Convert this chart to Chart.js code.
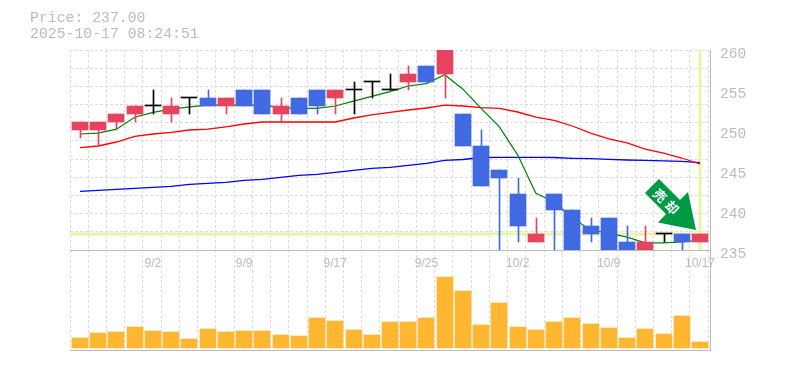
<!DOCTYPE html>
<html>
<head>
<meta charset="utf-8">
<title>Price</title>
<script src="https://cdn.jsdelivr.net/npm/chart.js@4"></script>
<style>
  html, body { margin: 0; padding: 0; background: #fff; }
  #wrap { position: relative; width: 785px; height: 370px; overflow: hidden; }
  canvas { position: absolute; left: 0; top: 0; }
  #info { position: absolute; left: 30px; top: 10px; font: 14.8px/16px "Liberation Mono", monospace; color: #bbb; white-space: pre; }
</style>
</head>
<body>
<div id="wrap">
  <canvas id="volChart" width="785" height="370"></canvas>
  <canvas id="priceChart" width="785" height="370"></canvas>
  <div id="info">Price: 237.00
2025-10-17 08:24:51</div>
</div>
<script>
// datos
const dates = ['8/27','8/28','8/29','9/1','9/2','9/3','9/4','9/5','9/8','9/9','9/10','9/11','9/12','9/16','9/17','9/18','9/19','9/22','9/24','9/25','9/26','9/29','9/30','10/1','10/2','10/3','10/6','10/7','10/8','10/9','10/10','10/14','10/15','10/16','10/17'];
const tickDates = ['9/2','9/9','9/17','9/25','10/2','10/9','10/17'];
const priceTicks = [235, 240, 245, 250, 255, 260];
const opens  = [250,250,251,252,253,252,254,254,253,255,255,252,254,255,254,255,256,255,256,258,257,252,248,245,242,236,242,240,238,239,236,235,237,237,236];
const closes = [251,251,252,253,253,253,254,253,254,253,252,253,252,253,255,255,256,255,257,256,260,248,243,244,238,237,240,234,237,234,234,236,237,236,237];
const highs  = [251,251,252,253,255,254,254,255,254,255,255,254,254,255,255,256,256,257,258,258,260,252,250,245,244,239,242,240,239,239,238,238,237,237,237];
const lows   = [249,248,250,251,252,251,252,253,252,253,252,251,252,252,252,252,254,255,255,256,254,248,243,234,236,236,234,234,236,234,234,234,236,235,236];
const ma5  = [249.5,249.6,250.1,251.6,252.2,252.6,252.9,253.1,253.1,253.1,253.1,252.8,252.7,252.7,253,253.6,254.2,254.8,255.5,255.8,256.9,255.1,252.7,250.4,246.9,242.1,241,239,237.5,237.1,236.6,235.9,235.9,236,236.2];
const ma25 = [247.8,248,248.5,249.2,249.5,249.7,250,250.1,250.4,250.75,251,251,251,251,251,251.5,251.9,252.2,252.5,252.75,253.1,253,252.8,252.7,252.25,251.6,251.2,250.5,249.6,248.9,248.4,247.6,247.1,246.5,245.75];
const ma75 = [242.34,242.46,242.59,242.71,242.84,242.96,243.21,243.34,243.46,243.71,243.84,244.09,244.34,244.46,244.71,244.96,245.21,245.34,245.59,245.84,246.21,246.31,246.56,246.59,246.59,246.59,246.56,246.46,246.41,246.34,246.25,246.21,246.13,246.09,245.91];
const volumes = [10,15,16,21,17,16,9,19,16,17,17,13,12,30,27,18,13,26,26,30,71,57,23,45,21,18,26,30,24,20,10,19,14,32,6];
const lastPrice = 237.00;

const colUp = '#e64361', colDown = '#4169e1', colDoji = '#000';
const colGrid = '#ddd', colAxis = '#bbb', colGuide = '#e6f5a8';
const xMin = -0.5484, xMax = 34.549, yMin = 235, yMax = 260;
const gridDash = [3, 2];

function candleColor(i) {
    if (opens[i] === closes[i]) return colDoji;
    return closes[i] > opens[i] ? colUp : colDown;
}
const candleColors = dates.map((d, i) => candleColor(i));
const idx = dates.map((d, i) => i);

// fija las barras al pixel para que salgan nitidas
const crispBars = {
    id: 'crispBars',
    afterDatasetsUpdate(chart) {
        chart.data.datasets.forEach((ds, n) => {
            if (ds.type !== 'bar') return;
            chart.getDatasetMeta(n).data.forEach(el => {
                const left = Math.round(el.x - 8) + 8;
                el.x = ds.barThickness === 1 ? left + 0.5 : left;
                el.y = Math.round(el.y);
                el.base = Math.round(el.base);
            });
        });
    }
};

// flecha de señal sobre la ultima vela
const arrowNote = {
    id: 'arrowNote',
    afterDraw(chart) {
        const ctx = chart.ctx;
        const tipX = chart.scales.x.getPixelForValue(idx[idx.length - 1]) - 4;
        const tipY = chart.scales.y.getPixelForValue(lastPrice) - 4;
        const shape = [[0,0],[-38,-7.5],[-30,-16],[-51,-37],[-37,-51],[-16,-30],[-8,-38]];
        ctx.save();
        ctx.fillStyle = '#009944';
        ctx.beginPath();
        shape.forEach((p, i) => i ? ctx.lineTo(tipX + p[0], tipY + p[1]) : ctx.moveTo(tipX + p[0], tipY + p[1]));
        ctx.closePath();
        ctx.fill();
        ctx.translate(tipX - 30, tipY - 28.5);
        ctx.rotate(Math.PI / 4);
        ctx.fillStyle = '#fff';
        ctx.font = 'bold 13px "Noto Sans CJK JP"';
        ctx.textAlign = 'center';
        ctx.textBaseline = 'middle';
        ctx.fillText('売', -8.5, 0);
        ctx.fillText('却', 8.5, 0);
        ctx.restore();
    }
};

function gridXAxis() {
    return {
        type: 'linear', position: 'bottom', min: xMin, max: xMax, offset: false,
        afterBuildTicks: s => { s.ticks = Array.from({ length: 36 }, (_, k) => ({ value: xMin + k })); },
        afterFit: s => { s.height = 0; },
        ticks: { display: false },
        border: { display: false, dash: gridDash },
        grid: { color: colGrid, offset: false, drawTicks: false }
    };
}

new Chart(document.getElementById('priceChart'), {
    type: 'bar',
    plugins: [crispBars, arrowNote],
    data: {
        datasets: [
            { type: 'bar', order: 1, grouped: false, barThickness: 16, minBarLength: 1, backgroundColor: candleColors,
              data: idx.map(i => ({ x: i, y: [opens[i], closes[i]] })) },
            { type: 'bar', order: 2, grouped: false, barThickness: 1, backgroundColor: candleColors,
              data: idx.map(i => ({ x: i, y: [lows[i], highs[i]] })) },
            { type: 'line', order: 3, borderColor: '#008000', borderWidth: 1.2, pointRadius: 0, data: idx.map(i => ({ x: i, y: ma5[i] })) },
            { type: 'line', order: 4, borderColor: '#ff0000', borderWidth: 1.3, pointRadius: 0, data: idx.map(i => ({ x: i, y: ma25[i] })) },
            { type: 'line', order: 5, borderColor: '#0000ff', borderWidth: 1.3, pointRadius: 0, data: idx.map(i => ({ x: i, y: ma75[i] })) },
            { type: 'line', order: 6, borderColor: colGuide, borderWidth: 3, pointRadius: 0, data: [{ x: xMin, y: lastPrice }, { x: xMax, y: lastPrice }] },
            { type: 'line', order: 6, borderColor: colGuide, borderWidth: 3, pointRadius: 0, data: [{ x: idx[idx.length - 1], y: yMin }, { x: idx[idx.length - 1], y: yMax }] }
        ]
    },
    options: {
        responsive: false,
        animation: false,
        layout: { padding: { left: 70, top: 50 } },
        plugins: { legend: { display: false }, tooltip: { enabled: false } },
        scales: {
            x: {
                type: 'linear', position: 'bottom', min: xMin, max: xMax, offset: false,
                afterBuildTicks: s => { s.ticks = tickDates.map(t => ({ value: dates.indexOf(t) })); },
                afterFit: s => { s.height = 120; },
                ticks: {
                    autoSkip: false, maxRotation: 0, padding: 6, color: colAxis,
                    font: { family: '"Liberation Sans"', size: 12 },
                    callback: v => dates[v]
                },
                grid: { display: false, offset: false, drawTicks: false },
                border: { display: true, color: colAxis }
            },
            xGrid: gridXAxis(),
            y: {
                type: 'linear', position: 'right', min: yMin, max: yMax,
                afterBuildTicks: s => { s.ticks = priceTicks.map(v => ({ value: v })); },
                afterFit: s => { s.width = 75; },
                ticks: { padding: 10, labelOffset: 4, color: colAxis, font: { family: '"Liberation Mono"', size: 14.5 } },
                grid: { display: false, drawTicks: false },
                border: { display: true, color: colAxis }
            },
            yGrid: {
                type: 'linear', position: 'right', min: yMin, max: yMax,
                afterBuildTicks: s => { s.ticks = Array.from({ length: 12 }, (_, k) => ({ value: yMin + k * (yMax - yMin) / 11 })); },
                afterFit: s => { s.width = 0; },
                ticks: { display: false },
                border: { display: false, dash: gridDash },
                grid: { color: colGrid, drawTicks: false }
            }
        }
    }
});

new Chart(document.getElementById('volChart'), {
    type: 'bar',
    plugins: [crispBars],
    data: {
        datasets: [
            { type: 'bar', barThickness: 16, backgroundColor: '#ffb732', data: idx.map(i => ({ x: i, y: volumes[i] })) }
        ]
    },
    options: {
        responsive: false,
        animation: false,
        layout: { padding: { left: 70, top: 250 } },
        plugins: { legend: { display: false }, tooltip: { enabled: false } },
        scales: {
            x: {
                type: 'linear', position: 'bottom', min: xMin, max: xMax, offset: false,
                afterBuildTicks: s => { s.ticks = []; },
                afterFit: s => { s.height = 20; },
                ticks: { display: false },
                grid: { display: false, offset: false, drawTicks: false },
                border: { display: true, color: colAxis }
            },
            xGrid: gridXAxis(),
            y: {
                type: 'linear', position: 'right', min: -2, max: 98,
                afterBuildTicks: s => { s.ticks = []; },
                afterFit: s => { s.width = 75; },
                ticks: { display: false },
                grid: { display: false, drawTicks: false },
                border: { display: true, color: colAxis }
            }
        }
    }
});
</script>
</body>
</html>
